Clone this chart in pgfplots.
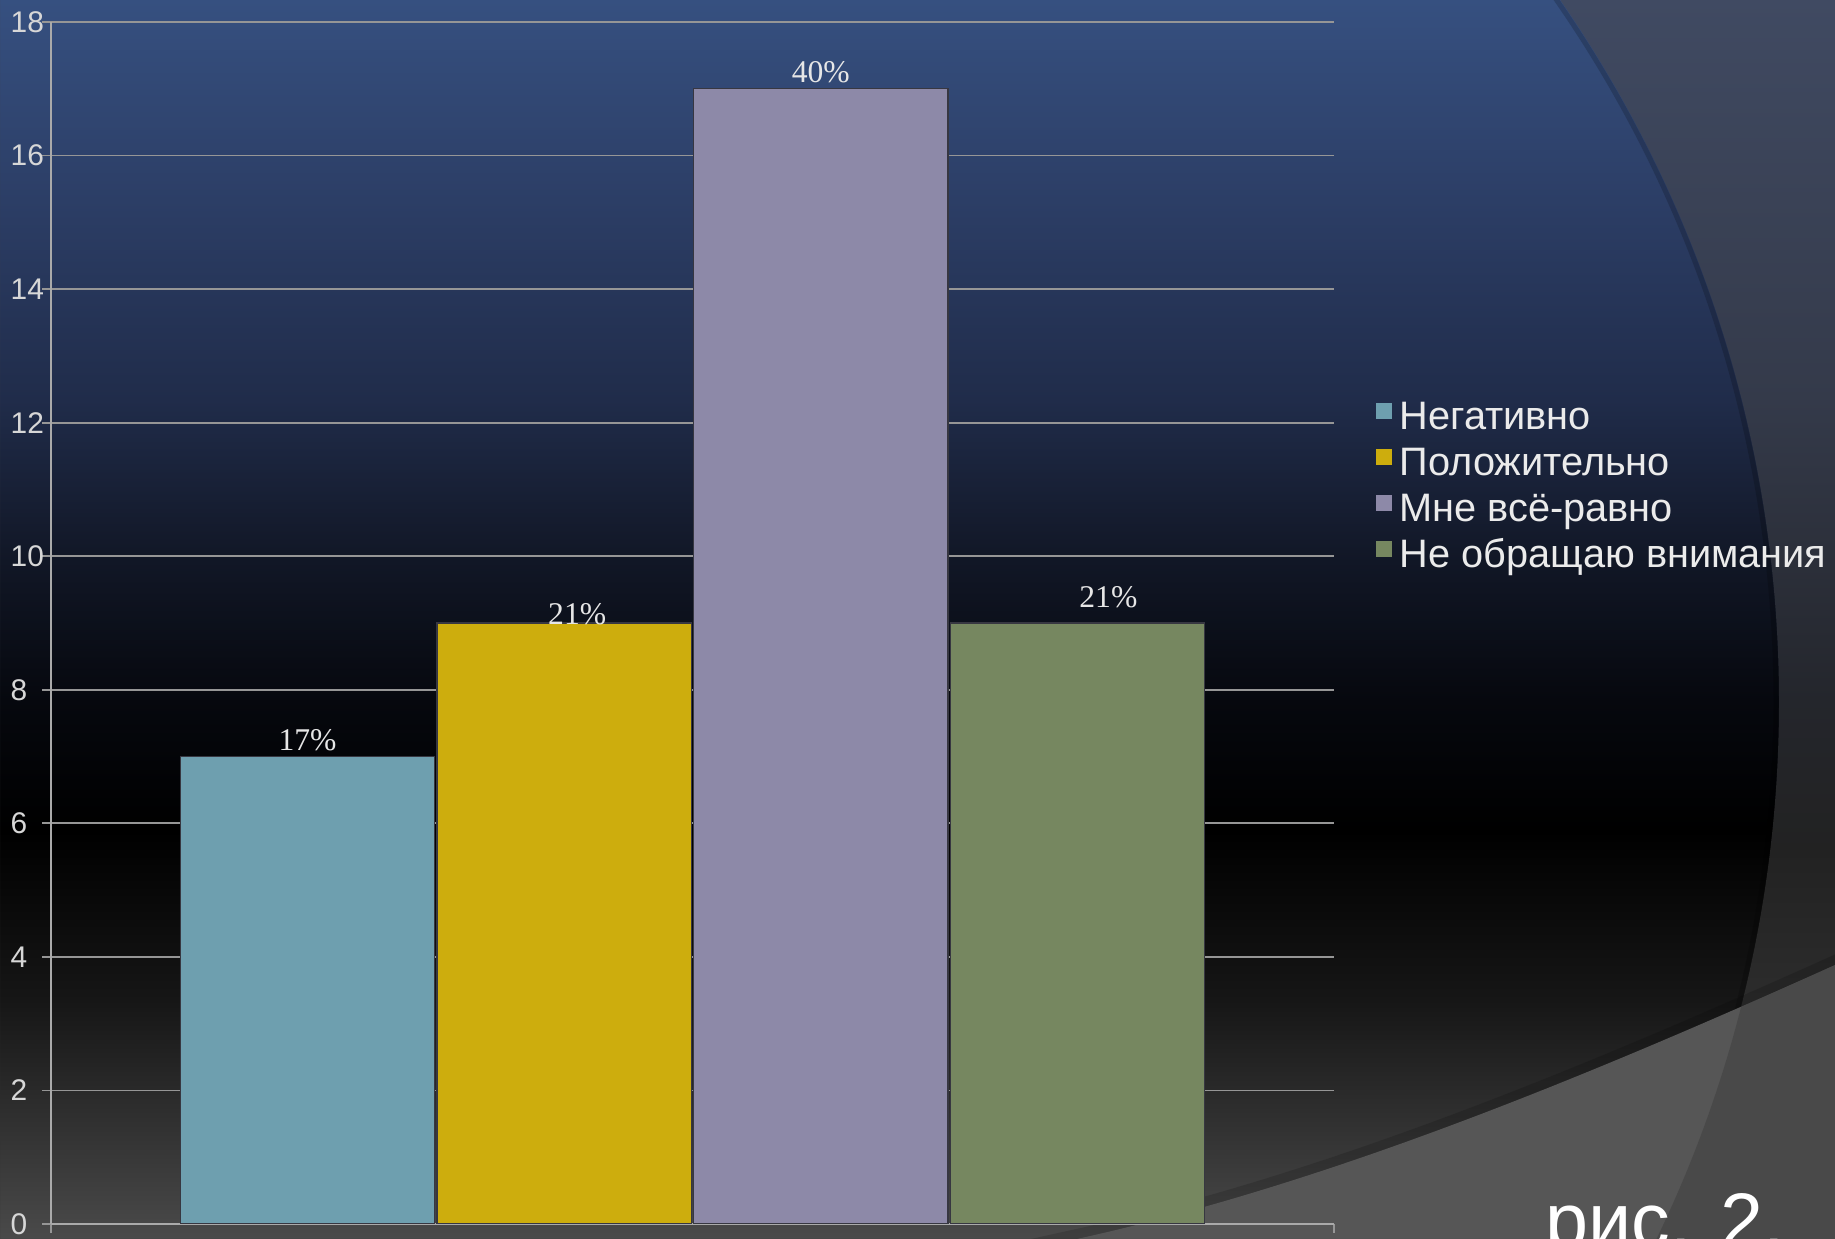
\documentclass[border=0pt]{standalone}
\usepackage{pgfplots}
\pgfplotsset{compat=1.18}
\usepackage{fontspec}
\setmainfont{Liberation Sans}
\newfontfamily\seriffont{Liberation Serif}

\definecolor{bg0}{RGB}{54,80,128}
\definecolor{bg1}{RGB}{44,62,102}
\definecolor{bg2}{RGB}{32,44,74}
\definecolor{bg3}{RGB}{18,24,40}
\definecolor{bg4}{RGB}{6,8,14}
\definecolor{bg5}{RGB}{0,0,0}
\definecolor{bg6}{RGB}{22,22,22}
\definecolor{bg7}{RGB}{74,74,74}
\definecolor{rb0}{RGB}{64,74,98}
\definecolor{rb1}{RGB}{52,58,74}
\definecolor{rb2}{RGB}{36,38,44}
\definecolor{rb3}{RGB}{34,34,34}
\definecolor{rb4}{RGB}{44,44,44}
\definecolor{rb5}{RGB}{58,58,58}
\definecolor{lowbg}{RGB}{86,86,86}
\definecolor{gridc}{RGB}{150,150,150}
\definecolor{axisc}{RGB}{170,170,170}
\definecolor{tickc}{RGB}{215,215,215}
\definecolor{legc}{RGB}{235,235,235}
\definecolor{labc}{RGB}{230,230,230}
\definecolor{c1}{RGB}{110,159,175}
\definecolor{c2}{RGB}{205,173,13}
\definecolor{c3}{RGB}{141,137,168}
\definecolor{c4}{RGB}{118,135,96}
\definecolor{bedge}{RGB}{55,55,65}

\pgfdeclareverticalshading{mainbg}{100bp}{color(0bp)=(bg7); color(25bp)=(bg7); color(34.64bp)=(bg6); color(41.5bp)=(bg5); color(46.75bp)=(bg4); color(52.8bp)=(bg3); color(58.86bp)=(bg2); color(66.93bp)=(bg1); color(75bp)=(bg0); color(100bp)=(bg0)}
\pgfdeclareverticalshading{rightbg}{100bp}{color(0bp)=(rb5); color(25bp)=(rb5); color(34.64bp)=(rb4); color(40.7bp)=(rb3); color(46.75bp)=(rb2); color(58.86bp)=(rb1); color(75bp)=(rb0); color(100bp)=(rb0)}

\begin{document}
\begin{tikzpicture}
\useasboundingbox (0,0) rectangle (18.35,12.39);
\begin{scope}
\clip (0,0) rectangle (18.35,12.39);
\shade[shading=mainbg] (0,0) rectangle (18.35,12.39);
\begin{scope}[even odd rule]
\clip (0,0) rectangle (18.35,12.39) (5.44,5.37) circle (12.35cm);
\shade[shading=rightbg] (0,0) rectangle (18.35,12.39);
\end{scope}
\draw[black, opacity=0.18, line width=0.05cm] (5.44,5.37) circle (12.32cm);
\draw[black, opacity=0.15, line width=0.1cm] (9.0,-0.34) -- (10.77,0.05) .. controls (13.27,0.60) and (15.85,1.665) .. (18.35,2.79) -- (19.5,3.35);
\fill[lowbg] (9.0,-0.39) -- (10.77,0) .. controls (13.27,0.55) and (15.85,1.615) .. (18.35,2.74) -- (19.5,3.3) -- (19.5,-1) -- (9,-1) -- cycle;
\begin{scope}[even odd rule]
\clip (0,0) rectangle (18.35,12.39) (5.44,5.37) circle (12.35cm);
\fill[black, opacity=0.14] (9.0,-0.39) -- (10.77,0) .. controls (13.27,0.55) and (15.85,1.615) .. (18.35,2.74) -- (19.5,3.3) -- (19.5,-1) -- (9,-1) -- cycle;
\end{scope}

\begin{axis}[
  at={(0.51cm,0.15cm)}, anchor=south west,
  scale only axis, width=12.83cm, height=12.02cm,
  xmin=0, xmax=5, ymin=0, ymax=18,
  ybar, bar width=0.99,
  ytick={0,2,...,18}, xtick={0,5}, xticklabels={},
  tick align=outside, major tick length=0.09cm,
  ymajorgrids, grid style={gridc, line width=0.5pt},
  axis x line*=bottom, axis y line*=left,
  axis line style={axisc, line width=0.5pt, -},
  every tick/.style={gridc, line width=0.5pt},
  /pgf/number format/assume math mode=true,
  yticklabel style={font=\fontsize{8.5}{10}\selectfont, text=tickc, anchor=west, inner sep=0pt, xshift=-0.32cm},
  legend style={at={(1.032,0.61)}, anchor=west, draw=none, fill=none, inner sep=0pt,
    font=\fontsize{11.3}{13}\selectfont, text=legc, row sep=0pt,
    nodes={inner sep=0pt, text height=0.31cm, text depth=0.15cm},
    /tikz/every odd column/.append style={column sep=0.08cm}},
  legend cell align=left,
  legend image code/.code={\fill[#1, draw=none] (0cm,0.03cm) rectangle (0.16cm,0.19cm);},
  every node near coord/.append style={font=\seriffont\fontsize{9}{10}\selectfont, text=labc, anchor=base, inner sep=0pt},
]
\addplot[fill=c1, draw=bedge, line width=0.4pt, bar shift=0pt, nodes near coords={17\%},
  every node near coord/.append style={yshift=0.06cm}] coordinates {(1,7)};
\addlegendentry{Негативно}
\addplot[fill=c2, draw=bedge, line width=0.4pt, bar shift=0pt, nodes near coords={21\%},
  every node near coord/.append style={xshift=0.13cm, yshift=-0.02cm}] coordinates {(2,9)};
\addlegendentry{Положительно}
\addplot[fill=c3, draw=bedge, line width=0.4pt, bar shift=0pt, nodes near coords={40\%},
  every node near coord/.append style={yshift=0.06cm}] coordinates {(3,17)};
\addlegendentry{Мне всё-равно}
\addplot[fill=c4, draw=bedge, line width=0.4pt, bar shift=0pt, nodes near coords={21\%},
  every node near coord/.append style={xshift=0.31cm, yshift=0.15cm}] coordinates {(4,9)};
\addlegendentry{Не обращаю внимания}
\end{axis}
\node[anchor=base west, inner sep=0pt, text=white, font=\fontsize{22}{26}\selectfont] at (15.45,-0.09) {рис. 2.};
\end{scope}
\end{tikzpicture}
\end{document}
